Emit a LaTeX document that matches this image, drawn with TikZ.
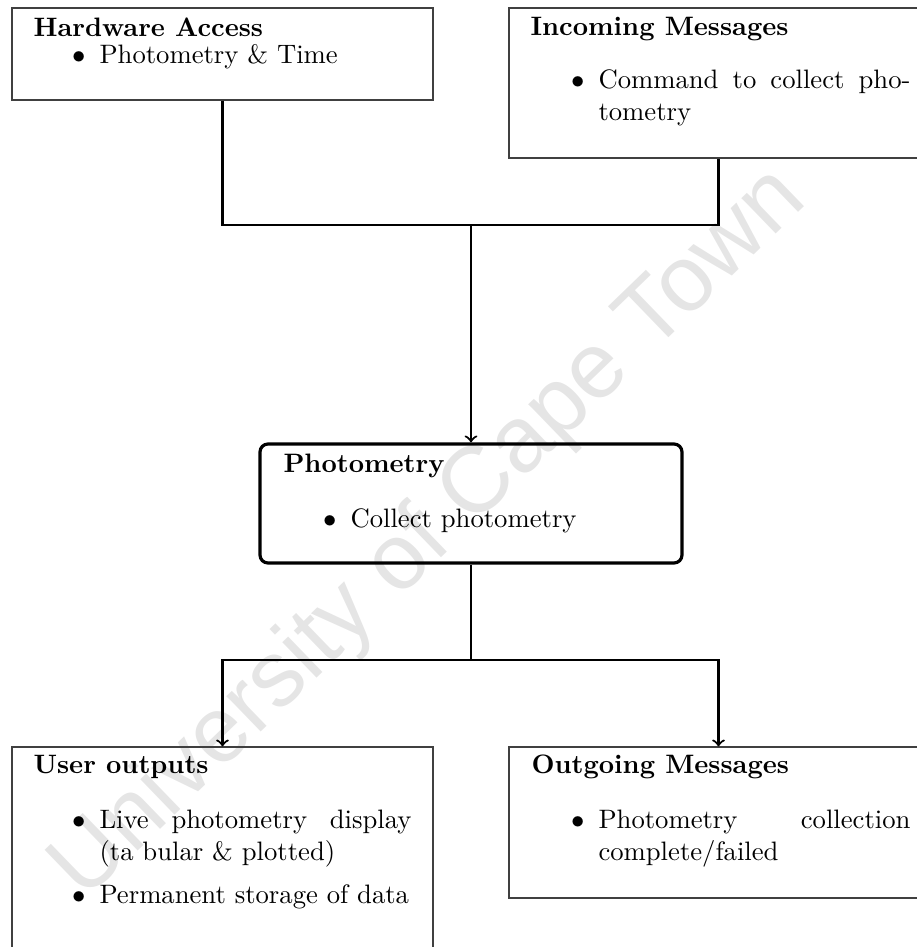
\documentclass[tikz,border=0pt]{standalone}
\usepackage{fontspec}
\newfontfamily\wmfont{Liberation Sans}
\usetikzlibrary{fit}

\tikzset{
  plainbox/.style={draw=black!75, line width=0.4pt, inner sep=0pt},
  corebox/.style={draw=black, line width=1.2pt, rounded corners=3pt, inner sep=0pt},
  heading/.style={anchor=base west, inner sep=0pt, font=\bfseries},
  bulletmark/.style={anchor=base east, inner sep=0pt},
  itemtext/.style={anchor=base west, inner sep=0pt, text width=117pt, align=justify},
  wire/.style={draw=black, line width=0.8pt},
  watermark/.style={text=black!10, font=\wmfont\fontsize{35}{40}\selectfont, rotate=44, inner sep=0pt}
}

\begin{document}
\begin{tikzpicture}[x=0.375pt, y=-0.375pt]
  \useasboundingbox (0,0) rectangle (917,947);
  \clip (0,0) rectangle (917,947);

  % background watermark
  \node[watermark] (wm) at (430,535) {University of Cape Town};

  % boxes
  \node[plainbox, fit={(12,8) (433,100)}] (hw) {};
  \node[plainbox, fit={(509,8) (928,158)}] (in) {};
  \node[corebox, fit={(260,444) (682,563)}] (ph) {};
  \node[plainbox, fit={(12,747) (433,965)}] (uo) {};
  \node[plainbox, fit={(509,747) (928,898)}] (og) {};

  % Hardware Access
  \node[heading] (hwt) at (33,36) {Hardware Access};
  \node[bulletmark] (hwb) at (86,63) {$\bullet$};
  \node[itemtext] (hwi) at (99,63) {Photometry \& Time};

  % Incoming Messages
  \node[heading] (int) at (530,35) {Incoming Messages};
  \node[bulletmark] (inb) at (585,88) {$\bullet$};
  \node[itemtext] (ini) at (598,88) {Command to collect pho-\linebreak tometry};

  % Photometry
  \node[heading] (pht) at (283,472) {Photometry};
  \node[bulletmark] (phb) at (337,527) {$\bullet$};
  \node[itemtext] (phi) at (350,527) {Collect photometry};

  % User outputs
  \node[heading] (uot) at (33,773) {User outputs};
  \node[bulletmark] (uob1) at (86,828) {$\bullet$};
  \node[itemtext] (uoi1) at (99,828) {Live photometry display\linebreak (ta bular \& plotted)};
  \node[bulletmark] (uob2) at (86,903) {$\bullet$};
  \node[itemtext] (uoi2) at (99,903) {Permanent storage of data};

  % Outgoing Messages
  \node[heading] (ogt) at (531,773) {Outgoing Messages};
  \node[bulletmark] (ogb) at (585,828) {$\bullet$};
  \node[itemtext] (ogi) at (598,828) {Photometry collection\linebreak complete/failed};

  % connectors
  \coordinate (jtop) at (471,225);
  \coordinate (jbot) at (471,660);
  \draw[wire] (hw.south) |- (jtop) -| (in.south);
  \draw[wire,->] (jtop) -- (ph.north);
  \draw[wire] (ph.south) -- (jbot);
  \draw[wire,->] (jbot) -| (uo.north);
  \draw[wire,->] (jbot) -| (og.north);
\end{tikzpicture}
\end{document}
